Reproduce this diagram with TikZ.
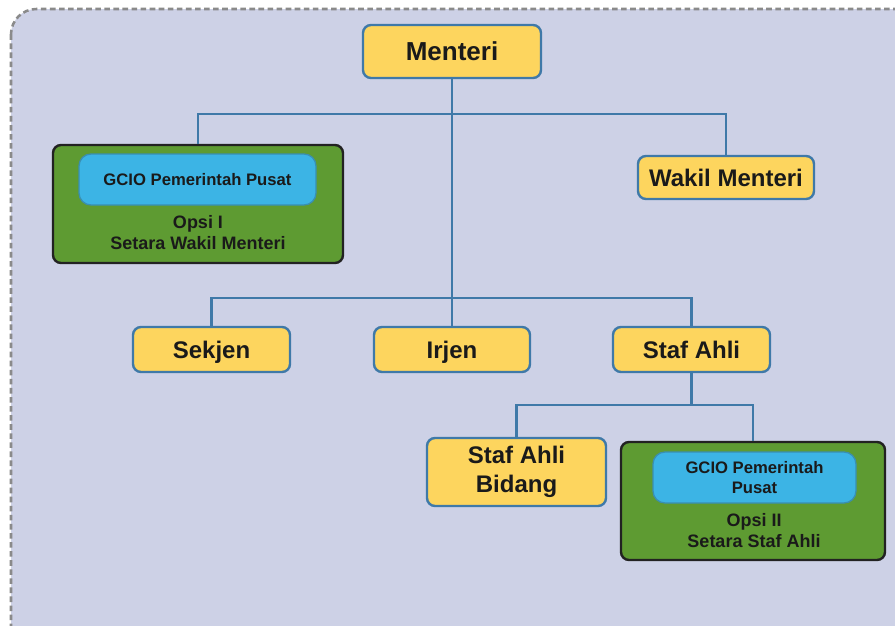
\documentclass[tikz,border=0pt]{standalone}
\usepackage{fontspec}
\setmainfont{Liberation Sans}
\definecolor{bgcol}{HTML}{CDD1E6}
\definecolor{ylw}{HTML}{FDD55E}
\definecolor{bluebd}{HTML}{3F79A8}
\definecolor{grn}{HTML}{5E9B32}
\definecolor{grnbd}{HTML}{222222}
\definecolor{cyanbox}{HTML}{3CB4E5}
\definecolor{cyanbd}{HTML}{3A8FB0}
\definecolor{txt}{HTML}{1A1A1A}
\definecolor{dashgray}{HTML}{8A8A8A}
\tikzset{
  ybox/.style={draw=bluebd, fill=ylw, line width=1.8pt, rounded corners=6pt,
    text=txt, font=\fontsize{18}{21.75}\selectfont\bfseries, align=center, inner sep=0pt},
  oneline/.style={text height=16pt, text depth=3pt},
  gbox/.style={draw=grnbd, fill=grn, line width=1.8pt, rounded corners=6pt, inner sep=0pt},
  cbox/.style={draw=cyanbd, fill=cyanbox, line width=1pt, rounded corners=9pt,
    text=txt, font=\fontsize{12.5}{14.5}\selectfont\bfseries, align=center, inner sep=0pt},
  gtext/.style={text=txt, font=\fontsize{13.5}{15.75}\selectfont\bfseries, align=center, inner sep=0pt},
  conn/.style={draw=bluebd, line width=1.6pt}
}
\begin{document}
\begin{tikzpicture}[x=0.75pt,y=-0.75pt]
\useasboundingbox (0,0) rectangle (895,625);
\clip (0,0) rectangle (895,625);
\fill[white] (0,0) rectangle (895,625);
\draw[fill=bgcol, draw=dashgray, line width=1.9pt, dash pattern=on 4.2pt off 2.6pt, rounded corners=19pt] (11,9) rectangle (930,660);

\node[ybox, oneline, text height=17pt, minimum width=133.5pt, minimum height=39.75pt, font=\fontsize{19.5}{23}\selectfont\bfseries] (menteri) at (452,51.5) {Menteri};
\node[ybox, oneline, minimum width=132pt, minimum height=32.25pt] (wakil) at (726,177.5) {Wakil Menteri};
\node[gbox, minimum width=217.5pt, minimum height=88.5pt] (green1) at (198,204) {};
\node[cbox, minimum width=177.75pt, minimum height=38.25pt] (blue1) at (197.5,179.5) {GCIO Pemerintah Pusat};
\node[gtext] (opsi1) at (198,233) {Opsi I\\Setara Wakil Menteri};

\node[ybox, oneline, minimum width=117.75pt, minimum height=33.75pt] (sekjen) at (211.5,349.5) {Sekjen};
\node[ybox, oneline, minimum width=117pt, minimum height=33.75pt] (irjen) at (452,349.5) {Irjen};
\node[ybox, oneline, minimum width=117.75pt, minimum height=33.75pt] (stafahli) at (691.5,349.5) {Staf Ahli};

\node[ybox, minimum width=134.25pt, minimum height=51pt] (bidang) at (516.5,472) {Staf Ahli\\Bidang};
\node[gbox, minimum width=198pt, minimum height=88.5pt] (green2) at (753,501) {};
\node[cbox, minimum width=152.25pt, minimum height=38.25pt] (blue2) at (754.5,477.5) {GCIO Pemerintah\\Pusat};
\node[gtext] (opsi2) at (754,531) {Opsi II\\Setara Staf Ahli};

\coordinate (j1) at (452,114);
\coordinate (j2) at (452,298);
\coordinate (j3) at (691.5,405);

\draw[conn] (menteri.south) -- (j2);
\draw[conn] (green1.north) |- (j1) -| (wakil.north);
\draw[conn] (sekjen.north) |- (j2) -| (stafahli.north);
\draw[conn] (j2) -- (irjen.north);
\draw[conn] (stafahli.south) -- (j3);
\draw[conn] (bidang.north) |- (j3) -| (green2.north);
\end{tikzpicture}
\end{document}
